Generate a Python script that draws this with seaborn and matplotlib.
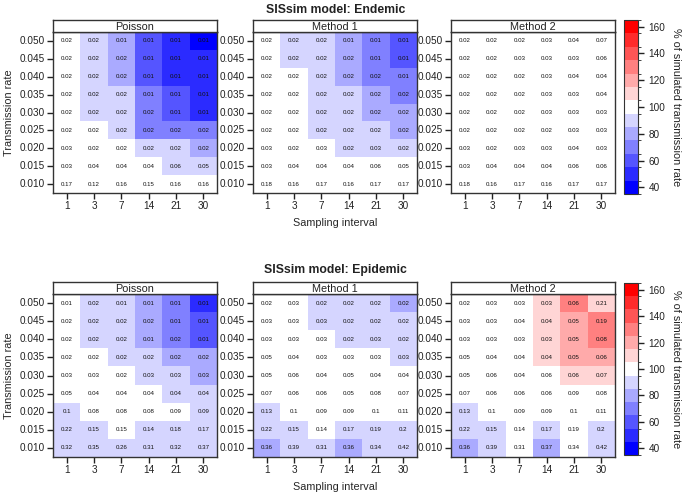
import numpy as np
import pandas as pd
import seaborn as sns
import matplotlib.pyplot as plt
from matplotlib.colors import ListedColormap, BoundaryNorm
from matplotlib.cm import ScalarMappable

sns.set_style("white")
plt.rcParams["font.family"] = ["Liberation Sans", "DejaVu Sans"]

intervals = ["1", "3", "7", "14", "21", "30"]
rates = ["0.050", "0.045", "0.040", "0.035", "0.030", "0.025", "0.020", "0.015", "0.010"]
methods = ["Poisson", "Method 1", "Method 2"]

# colour: % of simulated transmission rate (estimated band), text: printed cell value
endemic_poisson_pct = [
    [100, 90, 80, 60, 50, 40],
    [100, 90, 80, 60, 50, 45],
    [100, 90, 80, 60, 50, 45],
    [100, 90, 90, 70, 60, 50],
    [100, 90, 90, 70, 60, 50],
    [100, 100, 90, 70, 70, 70],
    [100, 100, 100, 90, 90, 80],
    [100, 100, 100, 100, 90, 90],
    [100, 100, 100, 100, 100, 100],
]
endemic_poisson_lab = [
    [0.02, 0.02, 0.01, 0.01, 0.01, 0.01],
    [0.02, 0.02, 0.02, 0.01, 0.01, 0.01],
    [0.02, 0.02, 0.02, 0.01, 0.01, 0.01],
    [0.02, 0.02, 0.02, 0.01, 0.01, 0.01],
    [0.02, 0.02, 0.02, 0.02, 0.01, 0.01],
    [0.02, 0.02, 0.02, 0.02, 0.02, 0.02],
    [0.03, 0.02, 0.02, 0.02, 0.02, 0.02],
    [0.03, 0.04, 0.04, 0.04, 0.06, 0.05],
    [0.17, 0.12, 0.16, 0.15, 0.16, 0.16],
]
endemic_m1_pct = [
    [100, 90, 90, 80, 70, 60],
    [100, 90, 90, 80, 70, 60],
    [100, 100, 90, 80, 70, 70],
    [100, 100, 90, 90, 80, 70],
    [100, 100, 90, 90, 80, 80],
    [100, 100, 90, 90, 90, 80],
    [100, 100, 100, 90, 90, 90],
    [100, 100, 100, 100, 100, 100],
    [100, 100, 100, 100, 100, 100],
]
endemic_m1_lab = [
    [0.02, 0.02, 0.02, 0.01, 0.01, 0.01],
    [0.02, 0.02, 0.02, 0.02, 0.01, 0.01],
    [0.02, 0.02, 0.02, 0.02, 0.02, 0.01],
    [0.02, 0.02, 0.02, 0.02, 0.02, 0.02],
    [0.02, 0.02, 0.02, 0.02, 0.02, 0.02],
    [0.02, 0.02, 0.02, 0.02, 0.02, 0.02],
    [0.03, 0.02, 0.03, 0.02, 0.03, 0.02],
    [0.03, 0.04, 0.04, 0.04, 0.06, 0.05],
    [0.18, 0.16, 0.17, 0.16, 0.17, 0.17],
]
endemic_m2_pct = [[100] * 6 for _ in range(9)]
endemic_m2_lab = [
    [0.02, 0.02, 0.02, 0.03, 0.04, 0.07],
    [0.02, 0.02, 0.03, 0.03, 0.03, 0.06],
    [0.02, 0.02, 0.02, 0.03, 0.04, 0.04],
    [0.02, 0.02, 0.02, 0.03, 0.03, 0.04],
    [0.02, 0.02, 0.02, 0.03, 0.03, 0.03],
    [0.02, 0.02, 0.02, 0.02, 0.03, 0.03],
    [0.03, 0.02, 0.03, 0.03, 0.04, 0.03],
    [0.03, 0.04, 0.04, 0.04, 0.06, 0.06],
    [0.18, 0.16, 0.17, 0.16, 0.17, 0.17],
]

epidemic_poisson_pct = [
    [100, 90, 90, 80, 70, 50],
    [100, 90, 90, 80, 70, 60],
    [100, 90, 90, 80, 70, 60],
    [100, 100, 90, 90, 80, 80],
    [100, 100, 100, 90, 90, 80],
    [100, 100, 100, 100, 90, 90],
    [90, 100, 100, 100, 100, 90],
    [90, 90, 100, 90, 90, 90],
    [90, 90, 90, 90, 90, 90],
]
epidemic_poisson_lab = [
    [0.01, 0.02, 0.01, 0.01, 0.01, 0.01],
    [0.02, 0.02, 0.02, 0.02, 0.01, 0.01],
    [0.02, 0.02, 0.02, 0.01, 0.02, 0.01],
    [0.02, 0.02, 0.02, 0.02, 0.02, 0.02],
    [0.03, 0.03, 0.02, 0.03, 0.03, 0.03],
    [0.05, 0.04, 0.04, 0.04, 0.04, 0.04],
    [0.1, 0.08, 0.08, 0.08, 0.09, 0.09],
    [0.22, 0.15, 0.15, 0.14, 0.18, 0.17],
    [0.32, 0.35, 0.26, 0.31, 0.32, 0.37],
]
epidemic_m1_pct = [
    [100, 100, 90, 90, 90, 80],
    [100, 100, 90, 90, 90, 90],
    [100, 100, 100, 90, 90, 90],
    [100, 100, 100, 100, 100, 90],
    [100, 100, 100, 100, 100, 100],
    [100, 100, 100, 100, 100, 100],
    [90, 100, 100, 100, 100, 100],
    [90, 90, 100, 90, 90, 90],
    [80, 90, 90, 80, 90, 90],
]
epidemic_m1_lab = [
    [0.02, 0.03, 0.02, 0.02, 0.02, 0.02],
    [0.03, 0.03, 0.03, 0.02, 0.02, 0.02],
    [0.03, 0.03, 0.03, 0.02, 0.03, 0.02],
    [0.05, 0.04, 0.03, 0.03, 0.03, 0.03],
    [0.05, 0.06, 0.04, 0.05, 0.04, 0.04],
    [0.07, 0.06, 0.06, 0.05, 0.08, 0.07],
    [0.13, 0.1, 0.09, 0.09, 0.1, 0.11],
    [0.22, 0.15, 0.14, 0.17, 0.19, 0.2],
    [0.36, 0.39, 0.31, 0.36, 0.34, 0.42],
]
epidemic_m2_pct = [
    [100, 100, 100, 110, 130, 110],
    [100, 100, 100, 110, 120, 130],
    [100, 100, 100, 110, 120, 130],
    [100, 100, 100, 110, 120, 120],
    [100, 100, 100, 100, 110, 110],
    [100, 100, 100, 100, 100, 100],
    [90, 100, 100, 100, 100, 100],
    [90, 90, 100, 90, 100, 90],
    [80, 90, 100, 80, 100, 90],
]
epidemic_m2_lab = [
    [0.02, 0.03, 0.03, 0.03, 0.06, 0.21],
    [0.03, 0.03, 0.04, 0.04, 0.05, 0.19],
    [0.03, 0.03, 0.03, 0.03, 0.05, 0.08],
    [0.05, 0.04, 0.04, 0.04, 0.05, 0.06],
    [0.05, 0.06, 0.04, 0.06, 0.06, 0.07],
    [0.07, 0.06, 0.06, 0.06, 0.09, 0.08],
    [0.13, 0.1, 0.09, 0.09, 0.1, 0.11],
    [0.22, 0.15, 0.14, 0.17, 0.19, 0.2],
    [0.36, 0.39, 0.31, 0.37, 0.34, 0.42],
]

# blue - white - red ramp in 13 bands of width 10 (35..165)
bounds = np.arange(35, 166, 10)
cols = []
for k in range(13):
    if k <= 6:
        f = k / 6
        cols.append((f, f, 1.0))
    else:
        f = (12 - k) / 6
        cols.append((1.0, f, f))
cmap = ListedColormap(cols)
norm = BoundaryNorm(bounds, cmap.N)

fig = plt.figure(figsize=(6.85, 4.93), dpi=100)

lefts = [0.0774, 0.3693, 0.6584]
width = 0.2394
rows_layout = [
    ("SISsim model: Endemic", 0.6085, 0.3266, 0.980,
     [(endemic_poisson_pct, endemic_poisson_lab), (endemic_m1_pct, endemic_m1_lab),
      (endemic_m2_pct, endemic_m2_lab)], 0.6065, 0.353),
    ("SISsim model: Epidemic", 0.073, 0.3306, 0.452,
     [(epidemic_poisson_pct, epidemic_poisson_lab), (epidemic_m1_pct, epidemic_m1_lab),
      (epidemic_m2_pct, epidemic_m2_lab)], 0.077, 0.349),
]
strip_h = 0.0243

for title, bottom, height, title_y, panels, cb_bottom, cb_height in rows_layout:
    fig.text(0.49, title_y, title, ha="center", va="center", fontsize=8.8, fontweight="bold",
             color="#222222")
    for i, (pct, lab) in enumerate(panels):
        ax = fig.add_axes([lefts[i], bottom, width, height])
        df = pd.DataFrame(pct, index=rates, columns=intervals)
        sns.heatmap(df, ax=ax, cmap=cmap, norm=norm, cbar=False,
                    annot=np.array(lab), fmt="g",
                    annot_kws={"size": 4.4, "color": "#111111"})
        for s in ax.spines.values():
            s.set_visible(True)
            s.set_color("#333333")
            s.set_linewidth(1.0)
        ax.tick_params(axis="both", length=4, width=1, direction="out",
                       labelsize=7.2, colors="#222222", pad=2)
        ax.tick_params(left=True, bottom=True)
        ax.set_yticklabels(rates, rotation=0)
        ax.set_xticklabels(intervals, rotation=0)
        ax.set_xlabel("Sampling interval" if i == 1 else "", fontsize=7.8, labelpad=5)
        ax.set_ylabel("Transmission rate" if i == 0 else "", fontsize=7.8, labelpad=4)

        sax = fig.add_axes([lefts[i], bottom + height, width, strip_h])
        sax.set_xticks([])
        sax.set_yticks([])
        for s in sax.spines.values():
            s.set_color("#333333")
            s.set_linewidth(1.0)
        sax.text(0.5, 0.45, methods[i], ha="center", va="center", fontsize=7.8,
                 color="#222222", transform=sax.transAxes)

    cax = fig.add_axes([0.911, cb_bottom, 0.0204, cb_height])
    cb = fig.colorbar(ScalarMappable(norm=norm, cmap=cmap), cax=cax,
                      ticks=[40, 60, 80, 100, 120, 140, 160])
    cb.outline.set_color("#333333")
    cax.tick_params(length=4, width=1, labelsize=7.2, colors="#222222")
    cb.set_label("% of simulated transmission rate", rotation=270, fontsize=7.8,
                 labelpad=11, color="#222222")

fig.savefig("out.png", dpi=100)
